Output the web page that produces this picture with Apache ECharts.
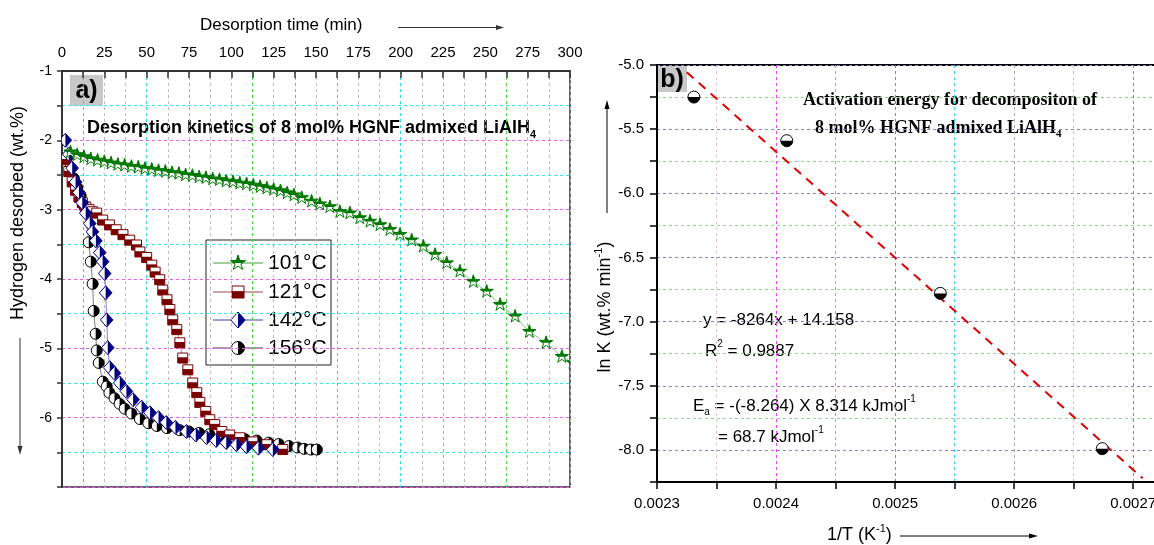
<!DOCTYPE html>
<html><head><meta charset="utf-8">
<script src="https://cdn.jsdelivr.net/npm/echarts@6/dist/echarts.min.js"></script>
<style>html,body{margin:0;padding:0;background:#fff}#c{width:1154px;height:545px}</style>
</head><body><div id="c"></div>
<script>
// ---------- Panel a data: desorption kinetics ----------
const t101 = [5, 9, 13, 17, 21, 25, 29, 33, 37, 41, 45, 49, 53, 57, 61, 65, 69, 73, 77, 81, 85, 89, 93, 97, 101, 105, 109, 113, 117, 121, 125, 129, 133, 137, 141.6, 147.4, 152.3, 158.2, 164.1, 170, 175.9, 181.9, 187.8, 193.7, 199.6, 206.5, 213.4, 220.3, 227.2, 235, 242.9, 250.8, 258.7, 267.6, 276, 285.9, 295.2, 301.8];
const h101 = [-2.17, -2.21, -2.24, -2.27, -2.29, -2.31, -2.33, -2.35, -2.36, -2.38, -2.39, -2.41, -2.42, -2.44, -2.45, -2.47, -2.48, -2.50, -2.51, -2.53, -2.54, -2.56, -2.57, -2.59, -2.60, -2.62, -2.63, -2.65, -2.67, -2.69, -2.71, -2.73, -2.76, -2.79, -2.83, -2.88, -2.92, -2.96, -3.03, -3.05, -3.12, -3.17, -3.22, -3.29, -3.36, -3.44, -3.53, -3.65, -3.77, -3.89, -4.04, -4.18, -4.37, -4.54, -4.76, -4.92, -5.12, -5.21];
const t121 = [2, 4, 6, 8, 10, 12, 14, 16, 18, 20.5, 24, 28, 32, 36, 40, 44, 46, 50, 53, 55, 57.7, 59.5, 62, 63.7, 65.4, 67.8, 69.6, 71.3, 74.3, 77.2, 79.6, 81.4, 84.9, 87.3, 90.2, 94.4, 99.1, 105, 112.7, 121, 130.4];
const h121 = [-2.28, -2.45, -2.6, -2.72, -2.82, -2.9, -2.96, -3.0, -3.03, -3.05, -3.15, -3.22, -3.29, -3.36, -3.44, -3.51, -3.61, -3.69, -3.80, -3.90, -4.01, -4.16, -4.30, -4.44, -4.59, -4.73, -4.92, -5.14, -5.31, -5.50, -5.64, -5.78, -5.91, -6.03, -6.10, -6.20, -6.25, -6.29, -6.35, -6.39, -6.46];
const t142 = [2, 4, 6, 8, 10, 12, 14, 16.4, 18, 20, 22.3, 24, 25.2, 25.8, 26.4, 27, 28.2, 31, 34.1, 38, 42, 47, 52, 57, 61.6, 67, 73.5, 79, 85.4, 91, 97, 103, 109, 116, 124.5];
const h142 = [-2.0, -2.2, -2.4, -2.6, -2.75, -2.9, -3.05, -3.2, -3.32, -3.45, -3.62, -3.75, -3.92, -4.2, -4.59, -4.99, -5.28, -5.36, -5.5, -5.62, -5.74, -5.85, -5.93, -6.0, -6.07, -6.14, -6.2, -6.25, -6.29, -6.33, -6.36, -6.39, -6.42, -6.44, -6.46];
const t156 = [3, 5, 7, 9, 11, 13.4, 15.8, 17, 18.1, 18.7, 19.9, 20.5, 21.7, 24.1, 26.4, 28, 31, 34, 37, 41, 46, 51, 56, 62, 69.5, 75, 81, 87, 94, 101, 108, 115, 122, 128, 134, 139, 143, 147, 150.5];
const h156 = [-2.25, -2.4, -2.55, -2.68, -2.8, -2.97, -3.47, -3.75, -4.07, -4.46, -4.79, -5.03, -5.21, -5.48, -5.55, -5.64, -5.72, -5.8, -5.87, -5.94, -6.02, -6.08, -6.12, -6.15, -6.18, -6.2, -6.22, -6.24, -6.27, -6.29, -6.31, -6.33, -6.36, -6.38, -6.41, -6.43, -6.45, -6.46, -6.46];
const seriesNamesA = ['101°C', '121°C', '142°C', '156°C'];
const timeTickLabels = [0, 25, 50, 75, 100, 125, 150, 175, 200, 225, 250, 275, 300];
const hTickLabels = [-6, -5, -4, -3, -2, -1];

// ---------- Panel b data: Arrhenius plot ----------
const invT = [0.002331, 0.002409, 0.002538, 0.002674];
const lnK = [-5.25, -5.59, -6.78, -7.99];
const fitInvT = [0.002325, 0.002708];
const fitLnK = [-5.056, -8.221];
const invTTickLabels = [0.0023, 0.0024, 0.0025, 0.0026, 0.0027];
const lnKTickLabels = [-8.0, -7.5, -7.0, -6.5, -6.0, -5.5, -5.0];

const F = '"Liberation Sans", Arial, sans-serif';
const FS = '"Liberation Serif", "Times New Roman", serif';
const zip = (a, b) => a.map((v, i) => [v, b[i]]);
const near = (arr, v) => arr.some(l => Math.abs(l - v) < 1e-9);

// composite half-filled marker shapes
const STAR_TOP = [[0,-1],[0.2245,-0.309],[0.951,-0.309],[0.525,0],[-0.525,0],[-0.951,-0.309],[-0.2245,-0.309]];
function markerParts(kind, x, y, size, color) {
  const r = size / 2;
  const white = {fill: '#fff', stroke: color, lineWidth: 1};
  const solid = {fill: color};
  if (kind === 'star') {
    const pts = [];
    for (let i = 0; i < 10; i++) {
      const a = -Math.PI / 2 + i * Math.PI / 5;
      const rr = i % 2 === 0 ? r : r * 0.382;
      pts.push([x + rr * Math.cos(a), y + rr * Math.sin(a)]);
    }
    return [
      {type: 'polygon', shape: {points: pts}, style: white},
      {type: 'polygon', shape: {points: STAR_TOP.map(p => [x + p[0] * r, y + p[1] * r])}, style: solid}
    ];
  }
  if (kind === 'square') {
    return [
      {type: 'rect', shape: {x: x - r, y: y - r, width: 2 * r, height: 2 * r}, style: white},
      {type: 'rect', shape: {x: x - r, y: y - r * 0.15, width: 2 * r, height: r * 1.15}, style: solid}
    ];
  }
  if (kind === 'diamond') {
    return [
      {type: 'polygon', shape: {points: [[x, y - r], [x + r * 0.9, y], [x, y + r], [x - r * 0.9, y]]}, style: white},
      {type: 'polygon', shape: {points: [[x, y - r], [x + r * 0.9, y], [x, y + r]]}, style: solid}
    ];
  }
  if (kind === 'circleR') {
    return [
      {type: 'circle', shape: {cx: x, cy: y, r: r}, style: white},
      {type: 'sector', shape: {cx: x, cy: y, r: r, r0: 0, startAngle: -Math.PI / 2, endAngle: Math.PI / 2, clockwise: true}, style: solid}
    ];
  }
  // circleB: bottom half filled
  return [
    {type: 'circle', shape: {cx: x, cy: y, r: r}, style: white},
    {type: 'sector', shape: {cx: x, cy: y, r: r, r0: 0, startAngle: 0, endAngle: Math.PI, clockwise: true}, style: solid}
  ];
}

const specA = [
  {name: seriesNamesA[0], t: t101, h: h101, kind: 'star', size: 14, color: '#007800', line: '#80c080', z: 8},
  {name: seriesNamesA[1], t: t121, h: h121, kind: 'square', size: 10, color: '#7a0000', line: '#c08080', z: 6},
  {name: seriesNamesA[2], t: t142, h: h142, kind: 'diamond', size: 14, color: '#000080', line: '#8080c8', z: 7},
  {name: seriesNamesA[3], t: t156, h: h156, kind: 'circleR', size: 11, color: '#000000', line: '#808080', z: 5}
];

const series = [];
specA.forEach(s => {
  series.push({type: 'line', xAxisIndex: 0, yAxisIndex: 0, data: zip(s.t, s.h), symbol: 'none',
    lineStyle: {color: s.line, width: 1}, z: s.z - 4, silent: true, animation: false});
  series.push({type: 'custom', name: s.name, coordinateSystem: 'cartesian2d', xAxisIndex: 0, yAxisIndex: 0,
    data: zip(s.t, s.h), encode: {x: 0, y: 1}, clip: true, z: s.z, animation: false,
    renderItem: (params, api) => {
      const p = api.coord([api.value(0), api.value(1)]);
      return {type: 'group', children: markerParts(s.kind, p[0], p[1], s.size, s.color)};
    }});
});
series.push({type: 'line', xAxisIndex: 1, yAxisIndex: 1, data: zip(fitInvT, fitLnK), symbol: 'none',
  lineStyle: {color: '#e00000', width: 2, type: [9, 7]}, z: 3, animation: false});
series.push({type: 'custom', name: 'ln K', coordinateSystem: 'cartesian2d', xAxisIndex: 1, yAxisIndex: 1,
  data: zip(invT, lnK), encode: {x: 0, y: 1}, z: 5, animation: false,
  renderItem: (params, api) => {
    const p = api.coord([api.value(0), api.value(1)]);
    return {type: 'group', children: markerParts('circleB', p[0], p[1], 12, '#000')};
  }});

// legend (panel a) drawn as graphic
const legendChildren = [{type: 'rect', shape: {x: 0, y: 0, width: 125, height: 125}, style: {fill: '#fff', stroke: '#222', lineWidth: 1}}];
const legendRows = [23, 52, 80, 108];
specA.forEach((s, i) => {
  const yy = legendRows[i];
  legendChildren.push({type: 'line', shape: {x1: 7, y1: yy, x2: 57, y2: yy}, style: {stroke: s.line, lineWidth: 1.5}});
  markerParts(s.kind, 32, yy, s.size + 2, s.color).forEach(m => legendChildren.push(m));
  legendChildren.push({type: 'text', x: 62, y: yy, style: {text: s.name, font: '21px ' + F, fill: '#000', verticalAlign: 'middle'}});
});

const richBase = (size, fam, weight) => ({
  n: {fontSize: size, fontFamily: fam, fontWeight: weight, lineHeight: size + 6, color: '#000'},
  sup: {fontSize: Math.round(size * 0.6), fontFamily: fam, fontWeight: weight, lineHeight: Math.round(size * 0.6), verticalAlign: 'top', color: '#000'},
  sub: {fontSize: Math.round(size * 0.6), fontFamily: fam, fontWeight: weight, lineHeight: Math.round(size * 0.6), verticalAlign: 'bottom', color: '#000'}
});

const graphic = [
  // panel a axis titles
  {type: 'text', x: 200, y: 25, style: {text: 'Desorption time (min)', font: '17px ' + F, fill: '#000', verticalAlign: 'middle'}},
  {type: 'line', shape: {x1: 398, y1: 27.5, x2: 497, y2: 27.5}, style: {stroke: '#333', lineWidth: 1}},
  {type: 'polygon', shape: {points: [[496, 25], [504, 27.5], [496, 30]]}, style: {fill: '#333'}},
  {type: 'text', x: 18, y: 213, rotation: Math.PI / 2, style: {text: 'Hydrogen desorbed (wt.%)', font: '18px ' + F, fill: '#000', align: 'center', verticalAlign: 'middle'}},
  {type: 'line', shape: {x1: 20, y1: 338, x2: 20, y2: 447}, style: {stroke: '#333', lineWidth: 1}},
  {type: 'polygon', shape: {points: [[17.5, 446], [20, 455], [22.5, 446]]}, style: {fill: '#333'}},
  // a) label
  {type: 'rect', shape: {x: 70, y: 75, width: 33, height: 31}, style: {fill: '#c8c8c8'}},
  {type: 'text', x: 86.5, y: 91, style: {text: 'a)', font: 'bold 25px ' + F, fill: '#000', align: 'center', verticalAlign: 'middle'}},
  {type: 'text', x: 87, y: 128, style: {text: '{n|Desorption kinetics of 8 mol% HGNF admixed LiAlH}{sub|4}', rich: richBase(18, F, 'bold'), verticalAlign: 'middle'}},
  {type: 'group', x: 206, y: 240, children: legendChildren},
  // panel b
  {type: 'rect', shape: {x: 658, y: 66, width: 29, height: 26}, style: {fill: '#c8c8c8'}},
  {type: 'text', x: 672, y: 80, style: {text: 'b)', font: 'bold 25px ' + F, fill: '#000', align: 'center', verticalAlign: 'middle'}},
  {type: 'text', x: 605, y: 307, rotation: Math.PI / 2, style: {text: '{n|ln K (wt.% min}{sup|-1}{n|)}', rich: richBase(18, F, 'normal'), align: 'center', verticalAlign: 'middle'}},
  {type: 'line', shape: {x1: 607, y1: 213, x2: 607, y2: 108}, style: {stroke: '#000', lineWidth: 1}},
  {type: 'polygon', shape: {points: [[604.5, 109], [607, 100], [609.5, 109]]}, style: {fill: '#000'}},
  {type: 'text', x: 827, y: 535, style: {text: '{n|1/T (K}{sup|-1}{n|)}', rich: richBase(18, F, 'normal'), verticalAlign: 'middle'}},
  {type: 'line', shape: {x1: 900, y1: 536, x2: 1030, y2: 536}, style: {stroke: '#000', lineWidth: 1}},
  {type: 'polygon', shape: {points: [[1029, 533.5], [1038, 536], [1029, 538.5]]}, style: {fill: '#000'}},
  {type: 'text', x: 950, y: 100, style: {text: 'Activation energy for decompositon of', font: 'bold 18px ' + FS, fill: '#000', align: 'center', verticalAlign: 'middle'}},
  {type: 'text', x: 815, y: 128, style: {text: '{n|8 mol% HGNF admixed LiAlH}{sub|4}', rich: richBase(18, FS, 'bold'), verticalAlign: 'middle'}},
  {type: 'text', x: 703, y: 320, style: {text: 'y = -8264x + 14.158', font: '17px ' + F, fill: '#000', verticalAlign: 'middle'}},
  {type: 'text', x: 705, y: 351, style: {text: '{n|R}{sup|2}{n| = 0.9887}', rich: richBase(17, F, 'normal'), verticalAlign: 'middle'}},
  {type: 'text', x: 693, y: 406, style: {text: '{n|E}{sub|a}{n| = -(-8.264) X 8.314 kJmol}{sup|-1}', rich: richBase(17, F, 'normal'), verticalAlign: 'middle'}},
  {type: 'text', x: 718, y: 437, style: {text: '{n|= 68.7 kJmol}{sup|-1}', rich: richBase(17, F, 'normal'), verticalAlign: 'middle'}}
];

const gridColorsAx = ['#bbb', '#44dd44', '#bbb', '#bbb', '#33dddd', '#bbb', '#33dddd', '#bbb', '#bbb', '#44dd44', '#bbb', '#44dd44', '#bbb', '#44dd44', '#bbb', '#bbb', '#33dddd', '#bbb', '#33dddd', '#bbb', '#33dddd', '#44dd44', '#bbb', '#bbb', '#bbb'];
const gridColorsBx = ['#ccc', '#d8c8d8', '#e050e0', '#30d8e8', '#e050e0', '#30d8e8', '#aaa', '#c8c8c8', '#e050e0', 'rgba(0,0,0,0)'];

const option = {
  animation: false,
  backgroundColor: '#fff',
  grid: [
    {left: 62, top: 71, width: 508, height: 416, show: true, borderColor: '#333', borderWidth: 1.5, backgroundColor: 'transparent', outerBoundsMode: 'none', containLabel: false},
    {left: 657, top: 65, width: 500, height: 417, show: true, borderColor: '#000', borderWidth: 2, backgroundColor: 'transparent', outerBoundsMode: 'none', containLabel: false}
  ],
  xAxis: [
    {gridIndex: 0, type: 'value', position: 'top', min: 0, max: 300, interval: 12.5,
      axisLine: {lineStyle: {color: '#333', width: 2}},
      axisTick: {inside: true, length: 7, lineStyle: {color: '#333', width: 1.5}},
      axisLabel: {formatter: v => near(timeTickLabels, v) ? String(Math.round(v)) : '', color: '#000', fontSize: 15, fontFamily: F, margin: 11},
      splitLine: {show: true, showMinLine: true, showMaxLine: true, lineStyle: {color: gridColorsAx, type: [3, 3], width: 1}}},
    {gridIndex: 1, type: 'value', position: 'bottom', min: 0.0023, max: 0.00272, interval: 0.00005,
      axisLine: {lineStyle: {color: '#000', width: 2}},
      axisTick: {inside: false, length: 7, lineStyle: {color: '#000', width: 1.5}},
      axisLabel: {formatter: v => near(invTTickLabels, v) ? v.toFixed(4) : '', color: '#000', fontSize: 15, fontFamily: F, margin: 14, showMaxLabel: false},
      splitLine: {show: true, showMinLine: true, showMaxLine: true, lineStyle: {color: gridColorsBx, type: [3, 3], width: 1}}}
  ],
  yAxis: [
    {gridIndex: 0, type: 'value', min: -7, max: -1, interval: 0.5,
      axisLine: {lineStyle: {color: '#333', width: 2}},
      axisTick: {inside: false, length: 5, lineStyle: {color: '#333', width: 1.5}},
      axisLabel: {formatter: v => near(hTickLabels, v) ? String(Math.round(v)) : '', color: '#000', fontSize: 14, fontFamily: F, margin: 10},
      splitLine: {show: true, showMinLine: true, showMaxLine: true, lineStyle: {color: ['#e060e0', '#40e0e8'], type: [3, 3], width: 1}}},
    {gridIndex: 1, type: 'value', min: -8.25, max: -5, interval: 0.25,
      axisLine: {lineStyle: {color: '#000', width: 2}},
      axisTick: {inside: false, length: 7, lineStyle: {color: '#000', width: 1.5}},
      axisLabel: {formatter: v => near(lnKTickLabels, v) ? v.toFixed(1) : '', color: '#000', fontSize: 15, fontFamily: F, margin: 13},
      splitLine: {show: true, showMinLine: true, showMaxLine: true, lineStyle: {color: ['#80e080', '#8080e0'], type: [3, 3], width: 1}}}
  ],
  series: series,
  graphic: graphic
};

const chart = echarts.init(document.getElementById('c'), null, {renderer: 'canvas'});
chart.setOption(option);
</script>
</body></html>
